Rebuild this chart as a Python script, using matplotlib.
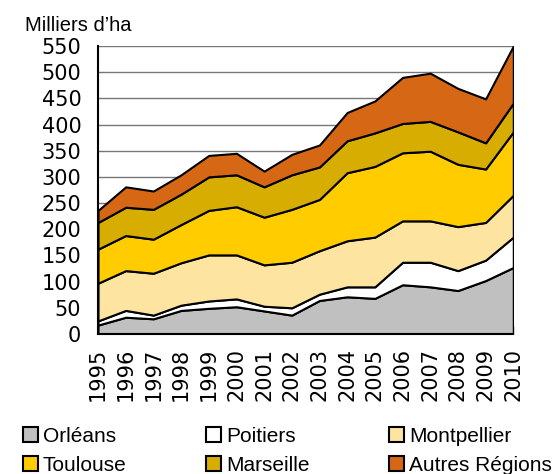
import numpy as np
import matplotlib.pyplot as plt
from matplotlib.patches import Patch

plt.rcParams['font.family'] = ['Liberation Sans', 'DejaVu Sans']

# Surfaces en milliers d'ha, par région
years = list(range(1995, 2011))
orleans = [17, 32, 29, 45, 49, 52, 44, 36, 64, 71, 68, 94, 90, 83, 102, 127]
poitiers = [8, 13, 7, 10, 14, 15, 9, 14, 12, 19, 22, 43, 47, 38, 39, 58]
montpellier = [72, 76, 80, 81, 88, 84, 79, 87, 83, 88, 95, 79, 79, 84, 72, 80]
toulouse = [65, 67, 65, 73, 85, 92, 91, 101, 98, 130, 135, 130, 133, 119, 102, 121]
marseille = [51, 54, 57, 58, 64, 61, 58, 66, 62, 61, 64, 56, 57, 62, 50, 55]
autres = [23, 39, 35, 37, 41, 41, 30, 39, 42, 54, 61, 88, 92, 83, 84, 109]

labels = ['Orléans', 'Poitiers', 'Montpellier', 'Toulouse', 'Marseille', 'Autres Régions']
series = [orleans, poitiers, montpellier, toulouse, marseille, autres]
colors = ['#c0c0c0', '#ffffff', '#fde4a0', '#ffcc00', '#d6ad00', '#d66815']

fig = plt.figure(figsize=(5.56, 4.74), dpi=100)
ax = fig.add_axes([0.1763, 0.2954, 0.7469, 0.6076])

# empilement
base = np.zeros(len(years))
for vals, col in zip(series, colors):
    top = base + np.array(vals)
    ax.fill_between(years, base, top, facecolor=col, edgecolor='black', linewidth=1.5, zorder=2)
    base = top

ax.set_xlim(1995, 2010)
ax.set_ylim(0, 550)
ax.set_yticks(range(0, 551, 50))
ax.set_xticks(years)
ax.set_xticklabels([str(y) for y in years], rotation=90)
ax.yaxis.grid(True, color='#777777', linewidth=1, zorder=0)
ax.set_axisbelow(True)

for s in ['top', 'right']:
    ax.spines[s].set_visible(False)
ax.spines['left'].set_linewidth(1.5)
ax.spines['bottom'].set_linewidth(1.5)
ax.spines['left'].set_zorder(3)
ax.spines['bottom'].set_zorder(3)

ax.tick_params(axis='y', length=0, pad=12)
ax.tick_params(axis='x', direction='in', length=6, width=1, pad=10)
for lab in ax.get_xticklabels() + ax.get_yticklabels():
    lab.set_fontfamily('DejaVu Sans')
    lab.set_fontsize(15)

fig.text(0.045, 0.9346, "Milliers d\u2019ha", fontsize=14.5, ha='left', va='baseline')

# légende sur 2 lignes, remplie par colonnes
order = [0, 3, 1, 4, 2, 5]
handles = [Patch(facecolor=colors[i], edgecolor='black', linewidth=1.5) for i in order]
fig.legend(handles, [labels[i] for i in order], ncol=3, loc='lower left',
           bbox_to_anchor=(0.026, -0.019), frameon=False, fontsize=15,
           handlelength=0.72, handleheight=0.72, handletextpad=0.25,
           columnspacing=3.8, labelspacing=0.48, borderaxespad=0)

fig.savefig('out.png', dpi=100)
